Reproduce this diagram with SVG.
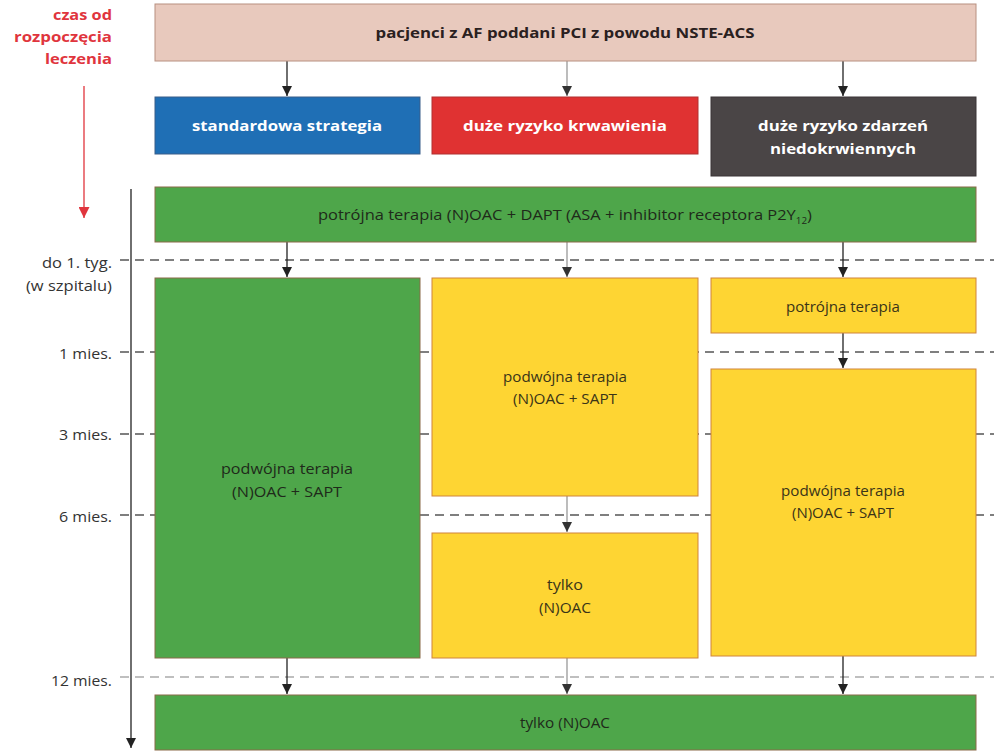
<svg xmlns="http://www.w3.org/2000/svg" width="994" height="752" viewBox="0 0 994 752">
<defs>
<marker id="ah" viewBox="0 0 10 10" refX="10" refY="5" markerWidth="10" markerHeight="10" markerUnits="userSpaceOnUse" orient="auto"><path d="M0,0 L10,5 L0,10 z" fill="#222"/></marker>
<marker id="ahg" viewBox="0 0 10 10" refX="10" refY="5" markerWidth="10" markerHeight="10" markerUnits="userSpaceOnUse" orient="auto"><path d="M0,0 L10,5 L0,10 z" fill="#333"/></marker>
<marker id="ahr" viewBox="0 0 10 10" refX="10" refY="5" markerWidth="11" markerHeight="11" markerUnits="userSpaceOnUse" orient="auto"><path d="M0,0 L10,5 L0,10 z" fill="#e0353d"/></marker>
<style>
text{font-family:"Open Sans","Noto Sans","Liberation Sans",sans-serif;}
.lbl{font-size:15px;fill:#333;text-anchor:end;}
.red{font-size:15px;fill:#e0353d;font-weight:bold;text-anchor:end;}
.t{font-size:15px;text-anchor:middle;}
.b{font-weight:bold;}
.w{fill:#fff;}
.dk{fill:#1f2a1a;}
.yk{fill:#3a3418;}
.dash{stroke:#555;stroke-width:1.3;stroke-dasharray:9,6;fill:none;}
.dashl{stroke:#aaa;stroke-width:1.3;stroke-dasharray:9,6;fill:none;}
.c{stroke:#222;stroke-width:1.3;fill:none;marker-end:url(#ah);}
.cg{stroke:#999;stroke-width:1.3;fill:none;marker-end:url(#ahg);}
.green{fill:#4ea64a;stroke:#8a6a48;stroke-width:1;}
.yellow{fill:#fed533;stroke:#d0843c;stroke-width:1;}
</style>
</defs>
<rect width="994" height="752" fill="#fff"/>

<g id="axis">
<text class="red" x="112" y="20" textLength="59" lengthAdjust="spacingAndGlyphs">czas od</text>
<text class="red" x="112" y="42" textLength="98" lengthAdjust="spacingAndGlyphs">rozpoczęcia</text>
<text class="red" x="112" y="64" textLength="67" lengthAdjust="spacingAndGlyphs">leczenia</text>
<line x1="84" y1="86" x2="84" y2="218" stroke="#e0353d" stroke-width="1.3" marker-end="url(#ahr)"/>
<line x1="131" y1="189" x2="131" y2="748" stroke="#222" stroke-width="1.3" marker-end="url(#ah)"/>
<text class="lbl" x="112" y="268" textLength="70" lengthAdjust="spacingAndGlyphs">do 1. tyg.</text>
<text class="lbl" x="112" y="291" textLength="86" lengthAdjust="spacingAndGlyphs">(w szpitalu)</text>
<text class="lbl" x="112" y="359" textLength="53" lengthAdjust="spacingAndGlyphs">1 mies.</text>
<text class="lbl" x="112" y="440" textLength="53" lengthAdjust="spacingAndGlyphs">3 mies.</text>
<text class="lbl" x="112" y="522" textLength="53" lengthAdjust="spacingAndGlyphs">6 mies.</text>
<text class="lbl" x="112" y="686" textLength="61" lengthAdjust="spacingAndGlyphs">12 mies.</text>
</g>

<g id="gridlines">
<line class="dash" x1="120" y1="260" x2="994" y2="260"/>
<line class="dash" x1="120" y1="352" x2="994" y2="352"/>
<line class="dash" x1="120" y1="434" x2="994" y2="434"/>
<line class="dash" x1="120" y1="515" x2="994" y2="515"/>
<line class="dashl" x1="120" y1="677" x2="994" y2="677"/>
</g>

<g id="connectors">
<line class="c" x1="287" y1="61" x2="287" y2="96"/>
<line class="cg" x1="567" y1="61" x2="567" y2="96"/>
<line class="c" x1="843" y1="61" x2="843" y2="96"/>
<line class="c" x1="287" y1="242" x2="287" y2="277"/>
<line class="cg" x1="567" y1="242" x2="567" y2="277"/>
<line class="c" x1="843" y1="242" x2="843" y2="277"/>
<line class="c" x1="843" y1="333" x2="843" y2="368"/>
<line class="cg" x1="567" y1="496" x2="567" y2="532"/>
<line class="c" x1="287" y1="658" x2="287" y2="694"/>
<line class="cg" x1="567" y1="658" x2="567" y2="694"/>
<line class="c" x1="843" y1="656" x2="843" y2="694"/>
</g>

<g id="n_top">
<rect x="155" y="4" width="821" height="57" fill="#e8c9bd" stroke="#b89080" stroke-width="1"/>
<text class="t b" x="565" y="38" fill="#2a2020" font-size="16" textLength="379" lengthAdjust="spacingAndGlyphs">pacjenci z AF poddani PCI z powodu NSTE-ACS</text>
</g>

<g id="n_standard">
<rect x="155" y="97" width="265" height="57" fill="#1f6fb5" stroke="#3a5f8a" stroke-width="1"/>
<text class="t b w" x="287" y="131" textLength="190" lengthAdjust="spacingAndGlyphs">standardowa strategia</text>
</g>
<g id="n_bleed">
<rect x="432" y="97" width="266" height="57" fill="#e03232" stroke="#b03030" stroke-width="1"/>
<text class="t b w" x="565" y="131" textLength="204" lengthAdjust="spacingAndGlyphs">duże ryzyko krwawienia</text>
</g>
<g id="n_isch">
<rect x="711" y="97" width="265" height="79" fill="#4a4546" stroke="#3a3536" stroke-width="1"/>
<text class="t b w" x="843" y="131" textLength="170" lengthAdjust="spacingAndGlyphs">duże ryzyko zdarzeń</text>
<text class="t b w" x="843" y="154" textLength="146" lengthAdjust="spacingAndGlyphs">niedokrwiennych</text>
</g>

<g id="n_triple">
<rect class="green" x="155" y="187" width="821" height="55"/>
<text class="t dk" x="565" y="220" textLength="494" lengthAdjust="spacingAndGlyphs">potrójna terapia (N)OAC + DAPT (ASA + inhibitor receptora P2Y<tspan font-size="9" dy="4">12</tspan><tspan dy="-4">)</tspan></text>
</g>

<g id="n_dual_std">
<rect class="green" x="155" y="278" width="265" height="380"/>
<text class="t dk" x="287" y="474" textLength="132" lengthAdjust="spacingAndGlyphs">podwójna terapia</text>
<text class="t dk" x="287" y="497" textLength="110" lengthAdjust="spacingAndGlyphs">(N)OAC + SAPT</text>
</g>

<g id="n_dual_bleed">
<rect class="yellow" x="432" y="278" width="266" height="218"/>
<text class="t yk" x="565" y="382" textLength="124" lengthAdjust="spacingAndGlyphs">podwójna terapia</text>
<text class="t yk" x="565" y="404" textLength="104" lengthAdjust="spacingAndGlyphs">(N)OAC + SAPT</text>
</g>

<g id="n_oac_bleed">
<rect class="yellow" x="432" y="533" width="266" height="125"/>
<text class="t yk" x="565" y="590" textLength="36" lengthAdjust="spacingAndGlyphs">tylko</text>
<text class="t yk" x="565" y="613" textLength="52" lengthAdjust="spacingAndGlyphs">(N)OAC</text>
</g>

<g id="n_triple_isch">
<rect class="yellow" x="711" y="278" width="265" height="55"/>
<text class="t yk" x="843" y="312" textLength="114" lengthAdjust="spacingAndGlyphs">potrójna terapia</text>
</g>

<g id="n_dual_isch">
<rect class="yellow" x="711" y="369" width="265" height="287"/>
<text class="t yk" x="843" y="496" textLength="124" lengthAdjust="spacingAndGlyphs">podwójna terapia</text>
<text class="t yk" x="843" y="518" textLength="102" lengthAdjust="spacingAndGlyphs">(N)OAC + SAPT</text>
</g>

<g id="n_oac">
<rect class="green" x="155" y="695" width="821" height="55"/>
<text class="t dk" x="565" y="728" textLength="90" lengthAdjust="spacingAndGlyphs">tylko (N)OAC</text>
</g>
</svg>
